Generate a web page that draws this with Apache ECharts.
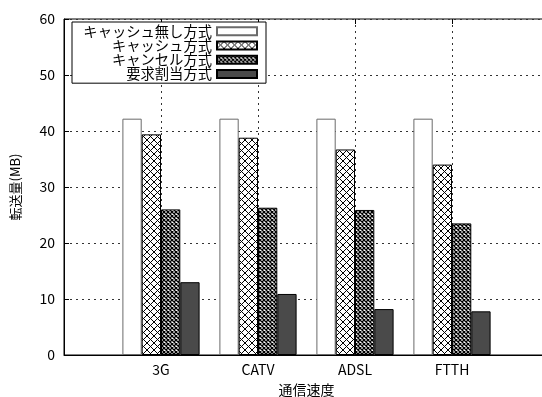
<!DOCTYPE html>
<html>
<head>
<meta charset="utf-8">
<script src="https://cdn.jsdelivr.net/npm/echarts@6/dist/echarts.min.js"></script>
<style>
  html, body { margin: 0; padding: 0; background: #fff; }
  #chart { width: 542px; height: 397px; }
</style>
</head>
<body>
<div id="chart"></div>
<script>
// Transfer volume (MB) per connection type for each caching scheme
const categories = ['3G', 'CATV', 'ADSL', 'FTTH'];
const seriesNames = ['キャッシュ無し方式', 'キャッシュ方式', 'キャンセル方式', '要求割当方式'];
const noCacheValues = [42.2, 42.2, 42.2, 42.2];
const cacheValues = [39.4, 38.8, 36.7, 34.0];
const cancelValues = [26.0, 26.3, 25.9, 23.5];
const requestValues = [13.0, 10.9, 8.2, 7.8];
const yTicks = [0, 10, 20, 30, 40, 50, 60];

const FONT = '"Noto Sans CJK JP", "Noto Sans", sans-serif';

// hatch patterns drawn on small tiles
function hatch(size, lineWidth) {
  const c = document.createElement('canvas');
  c.width = size; c.height = size;
  const g = c.getContext('2d');
  g.fillStyle = '#fff';
  g.fillRect(0, 0, size, size);
  g.strokeStyle = '#000';
  g.lineWidth = lineWidth;
  g.beginPath();
  g.moveTo(-1, -1); g.lineTo(size + 1, size + 1);
  g.moveTo(size + 1, -1); g.lineTo(-1, size + 1);
  g.stroke();
  return c;
}
const wideHatch = { image: hatch(7, 1), repeat: 'repeat' };
const fineHatch = { image: hatch(4, 1.3), repeat: 'repeat' };

// pad with empty slots so the four groups sit at 1..4 on a 0..5 span
const padded = arr => [null].concat(arr, [null]);
const xData = [''].concat(categories, ['']);

const styles = [
  { color: '#ffffff', borderColor: '#6a6a6a', borderWidth: 1 },
  { color: wideHatch, borderColor: '#000', borderWidth: 1 },
  { color: fineHatch, borderColor: '#000', borderWidth: 1 },
  { color: '#4a4a4a', borderColor: '#000', borderWidth: 1 }
];
const valueSets = [noCacheValues, cacheValues, cancelValues, requestValues];

const series = valueSets.map((vals, i) => ({
  name: seriesNames[i],
  type: 'bar',
  data: padded(vals),
  barWidth: 19.3,
  barGap: '0%',
  itemStyle: styles[i],
  emphasis: { disabled: true },
  animation: false
}));

const chart = echarts.init(document.getElementById('chart'), null, { renderer: 'canvas' });
chart.setOption({
  animation: false,
  backgroundColor: '#fff',
  textStyle: { fontFamily: FONT },
  grid: {
    left: 64, top: 19, right: -7, bottom: 42,
    outerBoundsMode: 'none',
    containLabel: false,
    show: true, borderColor: '#000', borderWidth: 1, backgroundColor: 'transparent'
  },
  legend: {
    left: 72, top: 22,
    orient: 'vertical',
    align: 'right',
    itemWidth: 40, itemHeight: 8,
    itemGap: 0,
    padding: [2, 8, 2, 8],
    backgroundColor: '#fff',
    borderColor: '#000',
    borderWidth: 1,
    borderRadius: 0,
    icon: 'rect',
    selectedMode: false,
    textStyle: { fontFamily: FONT, fontSize: 14.3, lineHeight: 14.2, color: '#000', width: 132, align: 'right' },
    data: seriesNames
  },
  xAxis: [{
    type: 'category',
    data: xData,
    boundaryGap: false,
    axisLine: { show: true, lineStyle: { color: '#000', width: 1 } },
    axisTick: { show: true, inside: true, length: 5, lineStyle: { color: '#000' } },
    axisLabel: { color: '#000', fontSize: 14, fontFamily: FONT, margin: 8 },
    splitLine: { show: true, lineStyle: { color: '#333', type: [2, 4], width: 1 } },
    name: '通信速度',
    nameLocation: 'middle',
    nameGap: 28,
    nameTextStyle: { color: '#000', fontSize: 14, fontFamily: FONT }
  }, {
    type: 'category',
    data: xData,
    boundaryGap: false,
    position: 'top',
    axisLine: { show: false },
    axisTick: { show: true, inside: true, length: 5, lineStyle: { color: '#000' } },
    axisLabel: { show: false },
    splitLine: { show: false }
  }],
  yAxis: {
    type: 'value',
    min: yTicks[0], max: yTicks[yTicks.length - 1], interval: 10,
    axisLine: { show: true, lineStyle: { color: '#000', width: 1 } },
    axisTick: { show: true, inside: true, length: 5, lineStyle: { color: '#000' } },
    axisLabel: { color: '#000', fontSize: 14, fontFamily: FONT, margin: 9 },
    splitLine: { show: true, lineStyle: { color: '#333', type: [2, 4], width: 1 } },
    name: '転送量(MB)',
    nameLocation: 'middle',
    nameGap: 42,
    nameTextStyle: { color: '#000', fontSize: 13, fontFamily: FONT }
  },
  series: series
});
</script>
</body>
</html>
